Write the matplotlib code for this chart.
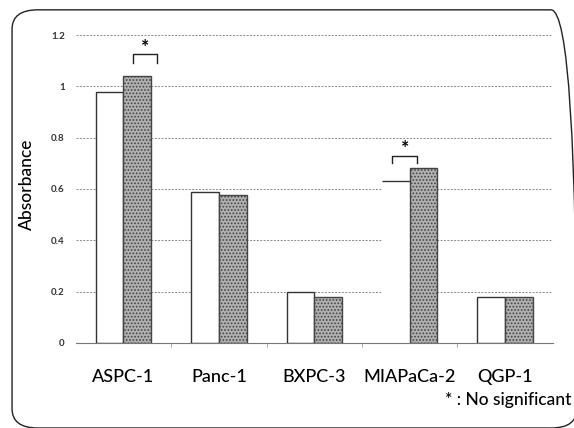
import numpy as np
import matplotlib
matplotlib.use("Agg")
import matplotlib.pyplot as plt
from matplotlib.patches import FancyBboxPatch

plt.rcParams['font.family'] = ['Lato', 'DejaVu Sans']
plt.rcParams['hatch.color'] = '#8e8e8e'
plt.rcParams['hatch.linewidth'] = 0.8

cells = ['ASPC-1', 'Panc-1', 'BXPC-3', 'MIAPaCa-2', 'QGP-1']
white_vals = [0.98, 0.59, 0.20, 0.63, 0.18]
gray_vals = [1.04, 0.575, 0.18, 0.68, 0.18]
yticks = [0, 0.2, 0.4, 0.6, 0.8, 1, 1.2]
ytick_labels = ['0', '0.2', '0.4', '0.6', '0.8', '1', '1.2']
# significance brackets: (x start, x end, top, leg bottom)
brackets = [(0.105, 0.355, 1.125, 1.09), (2.82, 3.08, 0.73, 0.70)]

fig = plt.figure(figsize=(5.74, 4.28), dpi=100)
ax = fig.add_axes([0.132, 0.199, 0.831, 0.719])

x = np.arange(len(cells))
w = 0.29
# white bars; the MIAPaCa-2 one only shows its top edge in the scan
for i, v in enumerate(white_vals):
    if cells[i] == 'MIAPaCa-2':
        ax.bar(x[i] - w / 2, v, w, color='white', edgecolor='none', zorder=2)
        ax.hlines(v, x[i] - w, x[i], color='#333333', lw=1.0, zorder=3)
    else:
        ax.bar(x[i] - w / 2, v, w, color='white', edgecolor='#333333', lw=1.0, zorder=2)
ax.bar(x + w / 2, gray_vals, w, color='#b0b0b0', edgecolor='#444444', lw=1.0,
       hatch='.....', zorder=2)

for x0, x1, top, bot in brackets:
    ax.plot([x0, x0, x1, x1], [bot, top, top, bot], color='#222222', lw=1.0)
    ax.text((x0 + x1) / 2, top + 0.026, '*', ha='center', va='center',
            fontsize=14, fontweight='bold')

ax.set_xlim(-0.5, len(cells) - 0.5)
ax.set_ylim(0, 1.2)
ax.set_yticks(yticks)
ax.set_yticklabels(ytick_labels, fontsize=7, fontweight='bold', color='#333333')
ax.tick_params(axis='y', length=0, pad=8)
ax.grid(axis='y', linestyle=(0, (2, 1.5)), color='#888888', lw=0.7, zorder=0)
ax.set_axisbelow(True)

ax.set_xticks(x)
ax.set_xticklabels(cells, fontsize=13, fontweight='medium')
ax.tick_params(axis='x', length=0, pad=19)
ax.set_xticks(np.arange(0.5, len(cells) - 1), minor=True)
ax.tick_params(axis='x', which='minor', length=3, color='#999999')

for s in ['left', 'right', 'top']:
    ax.spines[s].set_visible(False)
ax.spines['bottom'].set_color('#777777')
ax.spines['bottom'].set_linewidth(0.8)

ax.set_ylabel('Absorbance', fontsize=12.5, fontweight='medium')
ax.yaxis.set_label_coords(-0.086, 0.516)

fig.text(0.995, 0.066, '* : No significant', ha='right', va='center', fontsize=12.5,
         fontweight='medium')

border = FancyBboxPatch((0.021, 0.0), 0.984, 0.977, boxstyle='round,pad=0,rounding_size=0.045',
                        transform=fig.transFigure, fill=False, ec='#222222', lw=1.0)
fig.patches.append(border)

fig.savefig('out.png', dpi=100)
